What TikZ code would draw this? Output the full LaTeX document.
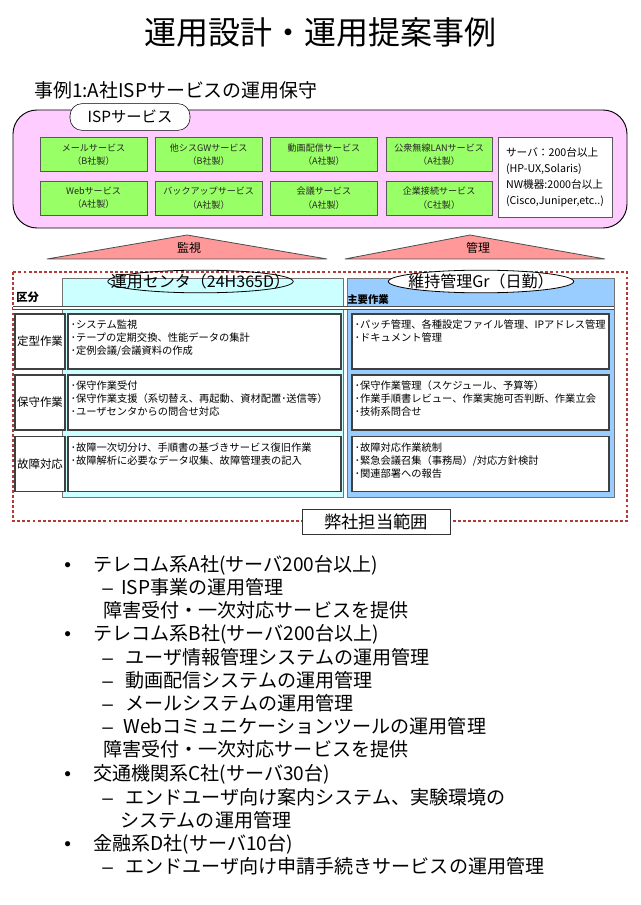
\documentclass[tikz,border=0pt]{standalone}
\usepackage{fontspec}
\setmainfont{Noto Sans CJK JP}
\newfontfamily\markfont{Liberation Sans}
\usepackage{tikz}
\usetikzlibrary{
  positioning,
  shapes.geometric
}
\definecolor{opPink}{HTML}{FFCCFF}
\definecolor{opGreen}{HTML}{99FF66}
\definecolor{opCyan}{HTML}{CCFFFF}
\definecolor{opBlue}{HTML}{99CCFF}
\definecolor{opSalmon}{HTML}{FF9999}
\definecolor{opRed}{HTML}{B43A36}
\definecolor{opEdge}{HTML}{595959}
\tikzset{
  opnode/.style={draw=opEdge, inner sep=0pt, align=center},
  svcbox/.style={opnode, fill=opGreen, minimum width=80pt, minimum height=25.5pt,
    font=\fontsize{6.8}{10}\selectfont, text=black!85},
  infobox/.style={opnode, fill=white, minimum width=85.5pt, minimum height=60pt,
    align=left, font=\fontsize{8}{12}\selectfont},
  isppanel/.style={draw, fill=opPink, rounded corners=18pt, minimum width=460.5pt,
    minimum height=88.5pt, line width=0.7pt},
  tagbox/.style={draw, fill=white, rounded corners=9pt, minimum width=90pt,
    minimum height=20pt, inner sep=0pt, font=\fontsize{11.5}{13}\selectfont},
  roof/.style={draw=black!70, fill=opSalmon, line width=0.6pt},
  rooftext/.style={font=\fontsize{9}{11}\selectfont, inner sep=0pt},
  scope/.style={draw=opRed, line width=2.2pt, dash pattern=on 2.2pt off 1.6pt},
  panel/.style={draw=black!55, minimum height=164.25pt, inner sep=0pt, line width=0.6pt},
  teamtag/.style={draw, ellipse, inner sep=0pt, minimum width=139pt, minimum height=17pt,
    font=\fontsize{12}{14}\selectfont, line width=0.6pt},
  hdrline/.style={draw=black!70, double, double distance=1.4pt, line width=0.5pt},
  coltext/.style={font=\fontsize{8.5}{10}\selectfont\bfseries, inner sep=0pt, anchor=west},
  rowlabel/.style={draw=black!75, fill=white, line width=1.1pt, minimum width=37.5pt,
    minimum height=41.25pt, inner sep=0pt, font=\fontsize{8.6}{10}\selectfont},
  taskbox/.style={draw=black!75, fill=white, line width=1.1pt, minimum height=41.25pt,
    inner sep=0pt},
  tasktext/.style={font=\fontsize{7.7}{9.75}\selectfont, inner sep=0pt, align=left,
    anchor=north west},
  rangebox/.style={draw=black!80, fill=white, minimum width=111pt, minimum height=18.75pt,
    inner sep=0pt, font=\fontsize{13}{15}\selectfont},
  ptlist/.style={anchor=west, inner sep=0pt, text height=12.6pt, text depth=1.7pt,
    font=\fontsize{14.3}{17}\selectfont},
  ptmark/.style={ptlist, font=\fontsize{14.3}{17}\selectfont\markfont}
}

\begin{document}
\begin{tikzpicture}[x=0.75pt, y=-0.75pt, node distance=6pt]
  \useasboundingbox (0,0) rectangle (640,905);

  \node[font=\fontsize{24}{28}\selectfont] (title) at (320,32) {運用設計・運用提案事例};
  \node[font=\fontsize{14.2}{16}\selectfont, anchor=west, inner sep=0pt] (case) at (34,90)
    {事例1:A社ISPサービスの運用保守};

  % ISP service block
  \node[isppanel] (isp) at (320,169) {};
  \node[tagbox] (isptag) at (130,117) {ISPサービス};
  \node[svcbox] (mail) at (93.5,154.5) {メールサービス\\（B社製）};
  \node[svcbox, right=of mail] (gw) {他シスGWサービス\\（B社製）};
  \node[svcbox, right=of gw] (video) {動画配信サービス\\（A社製）};
  \node[svcbox, right=of video] (wlan) {公衆無線LANサービス\\（A社製）};
  \node[svcbox, below=6.75pt of mail] (web) {Webサービス\\（A社製）};
  \node[svcbox, right=of web] (backup) {バックアップサービス\\（A社製）};
  \node[svcbox, right=of backup] (conf) {会議サービス\\（A社製）};
  \node[svcbox, right=of conf] (corp) {企業接続サービス\\（C社製）};
  \node[infobox] (spec) at (555,177)
    {サーバ：200台以上\\(HP-UX,Solaris)\\NW機器:2000台以上\\(Cisco,Juniper,etc..)};

  % monitor / manage
  \coordinate (watchL) at (47,259);
  \coordinate (watchT) at (187,235);
  \coordinate (watchR) at (327,259);
  \draw[roof] (watchL) -- (watchT) -- (watchR) -- cycle;
  \node[rooftext] (watch) at (189,248) {監視};
  \coordinate (mgmtL) at (345,259);
  \coordinate (mgmtT) at (470,235);
  \coordinate (mgmtR) at (605,259);
  \draw[roof] (mgmtL) -- (mgmtT) -- (mgmtR) -- cycle;
  \node[rooftext] (mgmt) at (478,248) {管理};

  % scope of our work
  \draw[scope] (13,272) rectangle (627,521);
  \node[panel, fill=opCyan, minimum width=210.75pt] (ops) at (202.5,387.5) {};
  \node[panel, fill=opBlue, minimum width=200.25pt] (maint) at (480.5,387.5) {};
  \draw[hdrline] (13,308) -- (614,308);
  \node[teamtag] (opstag) at (200.5,281.5) {\makebox[0pt]{運用センタ（24H365D）}};
  \node[teamtag, fill=white] (mainttag) at (481,281.5) {\makebox[0pt]{維持管理Gr（日勤）}};
  \node[coltext] (kubun) at (16,297) {区分};
  \node[coltext, font=\fontsize{7.8}{9}\selectfont\bfseries] (work) at (347,300) {主要作業};

  % rows
  \node[rowlabel] (routine) at (40,341.5) {定型作業};
  \node[rowlabel] (maintain) at (40,402.5) {保守作業};
  \node[rowlabel] (fault) at (40,464) {故障対応};
  \node[taskbox, minimum width=204.75pt] (opsA) at (204.5,341.5) {};
  \node[taskbox, minimum width=204.75pt] (opsB) at (204.5,402.5) {};
  \node[taskbox, minimum width=204.75pt] (opsC) at (204.5,464) {};
  \node[taskbox, minimum width=192.75pt] (mntA) at (480.5,341.5) {};
  \node[taskbox, minimum width=192.75pt] (mntB) at (480.5,402.5) {};
  \node[taskbox, minimum width=192.75pt] (mntC) at (480.5,464) {};
  \node[tasktext] (opsAtxt) at ([xshift=2.5pt,yshift=-5pt]opsA.north west)
    {･システム監視\\･テープの定期交換、性能データの集計\\･定例会議/会議資料の作成};
  \node[tasktext] (opsBtxt) at ([xshift=2.5pt,yshift=-5pt]opsB.north west)
    {･保守作業受付\\･保守作業支援（系切替え、再起動、資材配置･送信等）\\･ユーザセンタからの問合せ対応};
  \node[tasktext] (opsCtxt) at ([xshift=2.5pt,yshift=-5pt]opsC.north west)
    {･故障一次切分け、手順書の基づきサービス復旧作業\\･故障解析に必要なデータ収集、故障管理表の記入};
  \node[tasktext] (mntAtxt) at ([xshift=2.5pt,yshift=-5pt]mntA.north west)
    {･パッチ管理、各種設定ファイル管理、IPアドレス管理\\･ドキュメント管理};
  \node[tasktext] (mntBtxt) at ([xshift=2.5pt,yshift=-5pt]mntB.north west)
    {･保守作業管理（スケジュール、予算等）\\･作業手順書レビュー、作業実施可否判断、作業立会\\･技術系問合せ};
  \node[tasktext] (mntCtxt) at ([xshift=2.5pt,yshift=-5pt]mntC.north west)
    {･故障対応作業統制\\･緊急会議召集（事務局）/対応方針検討\\･関連部署への報告};
  \node[rangebox] (range) at (376,521.5) {弊社担当範囲};

  % track record
  \node[ptmark] (dotA) at (64,564) {•};
  \node[ptlist] (telA) at (93,564) {テレコム系A社(サーバ200台以上)};
  \node[ptmark] (dashA) at (102,587) {–};
  \node[ptlist] (ispA) at (121,587) {ISP事業の運用管理};
  \node[ptlist] (svcA) at (103,610) {障害受付・一次対応サービスを提供};
  \node[ptmark] (dotB) at (64,633) {•};
  \node[ptlist] (telB) at (93,633) {テレコム系B社(サーバ200台以上)};
  \node[ptmark] (dashB1) at (102,657) {–};
  \node[ptlist] (userB) at (125,657) {ユーザ情報管理システムの運用管理};
  \node[ptmark] (dashB2) at (102,680) {–};
  \node[ptlist] (videoB) at (125,680) {動画配信システムの運用管理};
  \node[ptmark] (dashB3) at (102,703) {–};
  \node[ptlist] (mailB) at (125,703) {メールシステムの運用管理};
  \node[ptmark] (dashB4) at (102,726) {–};
  \node[ptlist] (webB) at (123,726) {Webコミュニケーションツールの運用管理};
  \node[ptlist] (svcB) at (103,749) {障害受付・一次対応サービスを提供};
  \node[ptmark] (dotC) at (64,773) {•};
  \node[ptlist] (trafC) at (93,773) {交通機関系C社(サーバ30台)};
  \node[ptmark] (dashC) at (102,797) {–};
  \node[ptlist] (guideC) at (125,797) {エンドユーザ向け案内システム、実験環境の};
  \node[ptlist] (sysC) at (120,820) {システムの運用管理};
  \node[ptmark] (dotD) at (64,843) {•};
  \node[ptlist] (finD) at (93,843) {金融系D社(サーバ10台)};
  \node[ptmark] (dashD) at (102,866) {–};
  \node[ptlist] (applyD) at (125,866) {エンドユーザ向け申請手続きサービスの運用管理};
\end{tikzpicture}
\end{document}
